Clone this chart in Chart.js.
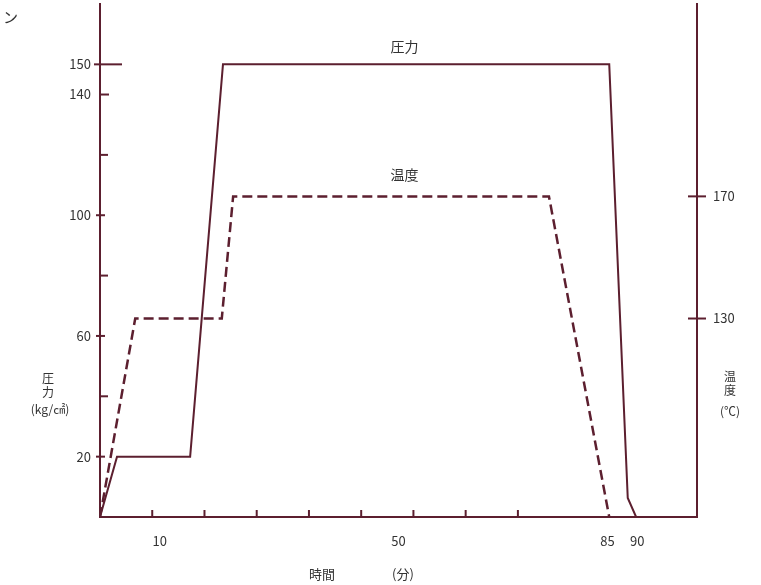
<!DOCTYPE html>
<html>
<head>
<meta charset="utf-8">
<script src="https://cdn.jsdelivr.net/npm/chart.js@4.4.1/dist/chart.umd.min.js"></script>
<style>
  html, body { margin: 0; padding: 0; background: #fff; }
  #wrap { width: 761px; height: 585px; position: relative; }
</style>
</head>
<body>
<div id="wrap"><canvas id="chart"></canvas></div>
<script>
// 圧力 (kg/cm²) vs time (min)
const pressureTime = [0, 2.85, 15.1, 20.6, 85.3, 88.4, 89.8];
const pressureVals = [0, 20, 20, 150, 150, 6.3, 0];

// 温度 (°C) vs time (min) -- right axis starts around 65
const tempTime = [0, 5.9, 20.4, 22.3, 75.2, 85.3];
const tempVals = [65, 130, 130, 170, 170, 65];

// tick labels
const timeLabels = [10, 50, 85, 90];
const timeMarks = [8.75, 17.5, 26.25, 35, 43.75, 52.5, 61.25, 70];
const pressureLabels = [20, 60, 100, 140, 150];
const pressureMinor = [40, 80, 120];
const tempLabels = [130, 170];

const LINE = '#5c1f2f';
const TEXT = '#333';
const FONT = '"Noto Sans CJK JP", "Noto Sans", sans-serif';

const toXY = (xs, ys) => xs.map((x, i) => ({ x: x, y: ys[i] }));

// inward/crossing tick marks + free text
const decorPlugin = {
  id: 'decor',
  afterDraw(chart) {
    const { ctx, scales } = chart;
    const x = scales.x, y = scales.y, y2 = scales.y2;
    const left = x.left, right = x.right, bottom = y.bottom;
    ctx.save();
    ctx.strokeStyle = LINE;
    ctx.lineWidth = 2;
    const seg = (x1, y1, x2, y2_) => {
      ctx.beginPath(); ctx.moveTo(x1, y1); ctx.lineTo(x2, y2_); ctx.stroke();
    };
    // left axis
    pressureLabels.forEach(v => {
      const py = y.getPixelForValue(v);
      if (v === 150) seg(left - 6, py, left + 22, py);
      else if (v === 140) seg(left, py, left + 9, py);
      else seg(left - 4, py, left + 5, py);
    });
    pressureMinor.forEach(v => {
      const py = y.getPixelForValue(v);
      seg(left, py, left + 8, py);
    });
    // right axis
    tempLabels.forEach(v => {
      const py = y2.getPixelForValue(v);
      seg(right - 9, py, right + 9, py);
    });
    // bottom axis
    timeMarks.forEach(v => {
      const px = x.getPixelForValue(v);
      seg(px, bottom, px, bottom - 7);
    });

    // series labels
    ctx.fillStyle = TEXT;
    ctx.textAlign = 'center';
    ctx.textBaseline = 'middle';
    ctx.font = '14px ' + FONT;
    ctx.fillText('圧力', x.getPixelForValue(51), y.getPixelForValue(156));
    ctx.fillText('温度', x.getPixelForValue(51), y2.getPixelForValue(177));

    // axis titles
    ctx.font = '12px ' + FONT;
    ctx.fillText('圧', 48, 378);
    ctx.fillText('力', 48, 392);
    ctx.fillText('(kg/㎠)', 50, 409);
    ctx.fillText('温', 730, 376);
    ctx.fillText('度', 730, 390);
    ctx.fillText('(℃)', 730, 411);
    ctx.font = '13px ' + FONT;
    ctx.fillText('時間', 322, 574);
    ctx.fillText('(分)', 403, 574);

    // clipped scan text in corner
    ctx.font = '15px ' + FONT;
    ctx.textAlign = 'left';
    ctx.fillText('ン', 3, 17);
    ctx.restore();
  }
};

const noVPad = s => { s.paddingTop = 0; s.paddingBottom = 0; };

new Chart(document.getElementById('chart'), {
  type: 'line',
  data: {
    datasets: [
      {
        label: '圧力',
        data: toXY(pressureTime, pressureVals),
        yAxisID: 'y',
        borderColor: LINE,
        borderWidth: 2,
        pointRadius: 0,
        tension: 0,
        fill: false
      },
      {
        label: '温度',
        data: toXY(tempTime, tempVals),
        yAxisID: 'y2',
        borderColor: LINE,
        borderWidth: 2.5,
        borderDash: [10, 5],
        pointRadius: 0,
        tension: 0,
        fill: false
      }
    ]
  },
  options: {
    responsive: true,
    maintainAspectRatio: false,
    animation: false,
    layout: { padding: { top: 4, left: 0, right: 0, bottom: 0 } },
    plugins: {
      legend: { display: false },
      tooltip: { enabled: false }
    },
    scales: {
      x: {
        type: 'linear',
        min: 0,
        max: 100,
        afterFit: s => { s.height = 68; s.paddingLeft = 0; s.paddingRight = 0; },
        afterBuildTicks: s => { s.ticks = timeLabels.map(v => ({ value: v })); },
        grid: { display: false, drawTicks: false },
        border: { display: true, color: LINE, width: 2 },
        ticks: { padding: 16, color: TEXT, font: { size: 13, family: FONT }, maxRotation: 0 }
      },
      y: {
        position: 'left',
        min: 0,
        max: 170,
        afterFit: s => { s.width = 100; noVPad(s); },
        afterBuildTicks: s => { s.ticks = pressureLabels.map(v => ({ value: v })); },
        grid: { display: false, drawTicks: false },
        border: { display: true, color: LINE, width: 2 },
        ticks: { padding: 9, color: TEXT, font: { size: 13, family: FONT } }
      },
      y2: {
        position: 'right',
        min: 65,
        max: 233,
        afterFit: s => { s.width = 64; noVPad(s); },
        afterBuildTicks: s => { s.ticks = tempLabels.map(v => ({ value: v })); },
        grid: { display: false, drawTicks: false },
        border: { display: true, color: LINE, width: 2 },
        ticks: { padding: 16, color: TEXT, font: { size: 13, family: FONT } }
      }
    }
  },
  plugins: [decorPlugin]
});
</script>
</body>
</html>
